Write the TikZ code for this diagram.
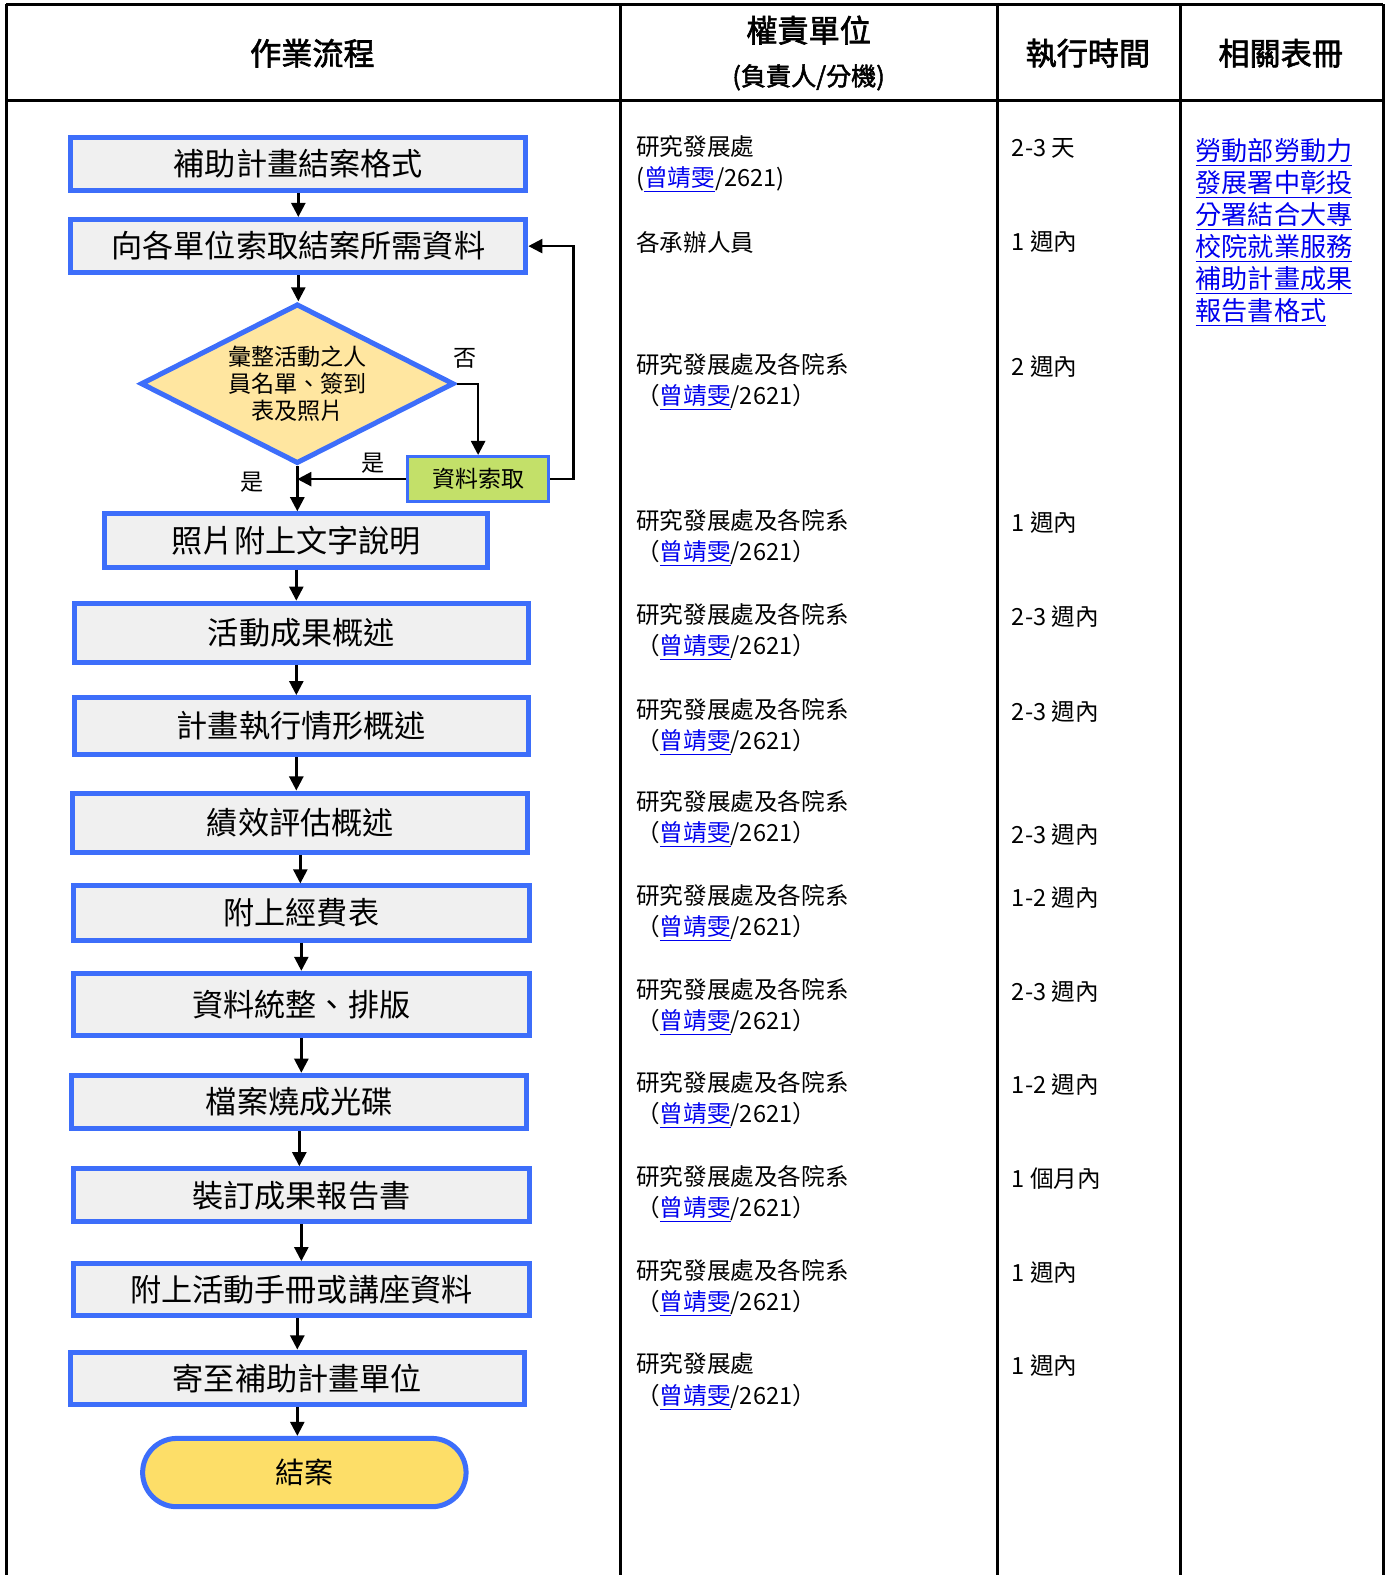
\documentclass[tikz,border=0pt]{standalone}
\usepackage{fontspec}
\setmainfont{Noto Sans CJK TC}[AutoFakeBold=2]
\usepackage{tikz}
\usetikzlibrary{positioning, arrows.meta, shapes.geometric}
\definecolor{FlowBlue}{RGB}{61,110,250}
\definecolor{BoxGray}{RGB}{240,240,240}
\definecolor{DecisionYellow}{RGB}{255,230,160}
\definecolor{FetchGreen}{RGB}{195,224,105}
\definecolor{EndGold}{RGB}{253,222,104}
\definecolor{LinkBlue}{RGB}{0,0,238}
\newcommand{\lnk}[1]{\textcolor{LinkBlue}{\underline{#1}}}
\tikzstyle{flowbox} = [draw=FlowBlue, line width=2.5pt, fill=BoxGray, rectangle, font=\fontsize{15.5}{18}\selectfont]
\tikzstyle{arrow} = [line width=1.2pt, black, -{Triangle[length=7pt, width=7pt]}]
\tikzstyle{rule} = [line width=1.5pt, black]
\tikzstyle{cell} = [anchor=west, inner sep=0pt, align=left, font=\fontsize{11.75}{15.5}\selectfont]
\tikzstyle{head} = [inner sep=0pt, font=\fontsize{15.5}{18}\selectfont\bfseries]
\tikzstyle{tag} = [inner sep=0pt, font=\fontsize{11.5}{13}\selectfont]

\begin{document}
\begin{tikzpicture}[x=0.5pt, y=-0.5pt]
    \useasboundingbox (0,0) rectangle (1381,1568);

    % Table frame
    \draw[rule] (6,4) -- (1377,4);
    \draw[rule] (6,100) -- (1377,100);
    \draw[rule] (6,4) -- (6,1568);
    \draw[rule] (618,4) -- (618,1568);
    \draw[rule] (993,4) -- (993,1568);
    \draw[rule] (1175,4) -- (1175,1568);
    \draw[rule] (1377,4) -- (1377,1568);

    % Header row
    \node[head] (hflow) at (311,53) {作業流程};
    \node[head] (hunit) at (805,30) {權責單位};
    \node[head, font=\fontsize{12.5}{14}\selectfont\bfseries] (hext) at (805,77) {(負責人/分機)};
    \node[head] (htime) at (1083,53) {執行時間};
    \node[head] (hform) at (1275,53) {相關表冊};

    % Flowchart
    \node[flowbox, minimum width=226.5pt, minimum height=26.5pt] (format) at (297,163) {補助計畫結案格式};
    \node[flowbox, minimum width=226.5pt, minimum height=26.5pt] (request) at (297,245) {向各單位索取結案所需資料};
    \node[draw=FlowBlue, line width=2.5pt, fill=DecisionYellow, diamond, aspect=1.93, inner sep=0pt,
          minimum width=156pt, minimum height=79.5pt, align=center,
          font=\fontsize{11.5}{13.5}\selectfont] (check) at (296,382) {彙整活動之人\\員名單、簽到\\表及照片};
    \node[draw=FlowBlue, line width=1.5pt, fill=FetchGreen, rectangle, minimum width=70.5pt,
          minimum height=22.5pt, font=\fontsize{11.4}{13}\selectfont] (fetch) at (476,477) {資料索取};
    \node[flowbox, minimum width=190.5pt, minimum height=26.5pt] (caption) at (295,538) {照片附上文字說明};
    \node[flowbox, minimum width=226pt, minimum height=29.5pt] (outcome) at (300,630) {活動成果概述};
    \node[flowbox, minimum width=226pt, minimum height=28.5pt] (progress) at (300,723) {計畫執行情形概述};
    \node[flowbox, minimum width=226.5pt, minimum height=29.5pt] (review) at (299,819) {績效評估概述};
    \node[flowbox, minimum width=227pt, minimum height=27pt] (budget) at (300,909) {附上經費表};
    \node[flowbox, minimum width=227pt, minimum height=31pt] (layout) at (300,1000) {資料統整、排版};
    \node[flowbox, minimum width=226.5pt, minimum height=26.5pt] (disc) at (298,1097) {檔案燒成光碟};
    \node[flowbox, minimum width=227pt, minimum height=26.5pt] (binding) at (300,1190) {裝訂成果報告書};
    \node[flowbox, minimum width=227pt, minimum height=26pt] (handbook) at (300,1284) {附上活動手冊或講座資料};
    \node[flowbox, minimum width=226pt, minimum height=26pt] (mail) at (296,1372) {寄至補助計畫單位};
    \node[draw=FlowBlue, line width=2.5pt, fill=EndGold, rectangle, rounded corners=17pt,
          minimum width=161pt, minimum height=34pt, font=\fontsize{14.5}{17}\selectfont] (finish) at (303,1466) {結案};

    \node[tag] (no) at (463,357) {否};
    \node[tag] (yesright) at (371,461) {是};
    \node[tag] (yesdown) at (251,480) {是};

    \draw[arrow] (format.south) -- (format.south |- request.north);
    \draw[arrow] (request.south) -- (request.south |- check.north);
    \draw[arrow] (check.east) -| (fetch.north);
    \draw[arrow] (fetch.east) -- ++(23,0) |- (request.east);
    \coordinate (merge) at (check.south |- fetch.west);
    \draw[arrow] (fetch.west) -- (merge);
    \draw[arrow] (check.south) -- (check.south |- caption.north);
    \draw[arrow] (caption.south) -- (caption.south |- outcome.north);
    \draw[arrow] (caption.south |- outcome.south) -- (caption.south |- progress.north);
    \draw[arrow] (caption.south |- progress.south) -- (caption.south |- review.north);
    \draw[arrow] (review.south) -- (review.south |- budget.north);
    \draw[arrow] (budget.south) -- (budget.south |- layout.north);
    \draw[arrow] (layout.south) -- (layout.south |- disc.north);
    \draw[arrow] (disc.south) -- (disc.south |- binding.north);
    \draw[arrow] (binding.south) -- (binding.south |- handbook.north);
    \draw[arrow] (mail.north |- handbook.south) -- (mail.north);
    \draw[arrow] (mail.south) -- (mail.south |- finish.north);

    % Responsible units
    \node[cell] (u1) at (633,163.5) {研究發展處\\(\lnk{曾靖雯}/2621)};
    \node[cell] (u2) at (633,241) {各承辦人員};
    \node[cell] (u3) at (633,380.5) {研究發展處及各院系\\（\lnk{曾靖雯}/2621）};
    \node[cell] (u4) at (633,535.5) {研究發展處及各院系\\（\lnk{曾靖雯}/2621）};
    \node[cell] (u5) at (633,629.5) {研究發展處及各院系\\（\lnk{曾靖雯}/2621）};
    \node[cell] (u6) at (633,723.5) {研究發展處及各院系\\（\lnk{曾靖雯}/2621）};
    \node[cell] (u7) at (633,815.5) {研究發展處及各院系\\（\lnk{曾靖雯}/2621）};
    \node[cell] (u8) at (633,909) {研究發展處及各院系\\（\lnk{曾靖雯}/2621）};
    \node[cell] (u9) at (633,1002.5) {研究發展處及各院系\\（\lnk{曾靖雯}/2621）};
    \node[cell] (u10) at (633,1095.5) {研究發展處及各院系\\（\lnk{曾靖雯}/2621）};
    \node[cell] (u11) at (633,1188.5) {研究發展處及各院系\\（\lnk{曾靖雯}/2621）};
    \node[cell] (u12) at (633,1282.5) {研究發展處及各院系\\（\lnk{曾靖雯}/2621）};
    \node[cell] (u13) at (633,1375.5) {研究發展處\\（\lnk{曾靖雯}/2621）};

    % Execution times
    \node[cell] (t1) at (1007,148) {2-3 天};
    \node[cell] (t2) at (1007,241) {1 週內};
    \node[cell] (t3) at (1007,365) {2 週內};
    \node[cell] (t4) at (1007,520) {1 週內};
    \node[cell] (t5) at (1007,614) {2-3 週內};
    \node[cell] (t6) at (1007,708) {2-3 週內};
    \node[cell] (t7) at (1007,831) {2-3 週內};
    \node[cell] (t8) at (1007,894) {1-2 週內};
    \node[cell] (t9) at (1007,987) {2-3 週內};
    \node[cell] (t10) at (1007,1080) {1-2 週內};
    \node[cell] (t11) at (1007,1173) {1 個月內};
    \node[cell] (t12) at (1007,1267) {1 週內};
    \node[cell] (t13) at (1007,1360) {1 週內};

    % Related forms
    \node[cell, font=\fontsize{13}{16}\selectfont] (forms) at (1190,231.5)
        {\lnk{勞動部勞動力}\\\lnk{發展署中彰投}\\\lnk{分署結合大專}\\\lnk{校院就業服務}\\\lnk{補助計畫成果}\\\lnk{報告書格式}};
\end{tikzpicture}
\end{document}
